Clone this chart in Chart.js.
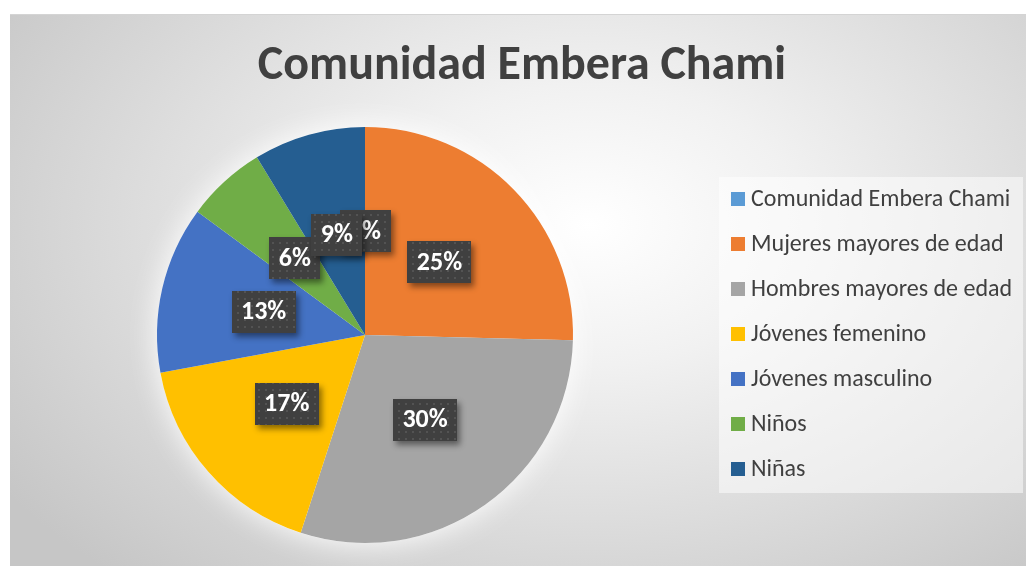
<!DOCTYPE html>
<html>
<head>
<meta charset="utf-8">
<script src="https://cdn.jsdelivr.net/npm/chart.js@4.4.1/dist/chart.umd.min.js"></script>
<style>
  html, body { margin: 0; padding: 0; background: #fff; }
  #wrap {
    position: absolute; left: 10px; top: 14px; width: 1016px; height: 552px;
    border-top: 1px solid #d4d4d4;
    background: radial-gradient(ellipse 70% 85% at 57% 38%, #ffffff 0%, #f1f1f1 30%, #c6c6c6 100%);
  }
</style>
</head>
<body>
<div id="wrap"><canvas id="pie"></canvas></div>
<script>
// Datos (porcentaje de cada grupo)
const categories = [
    'Comunidad Embera Chami',
    'Mujeres mayores de edad',
    'Hombres mayores de edad',
    'Jóvenes femenino',
    'Jóvenes masculino',
    'Niños',
    'Niñas'
];
const values = [0, 25.4, 29.6, 17.1, 13.0, 6.2, 8.7];
const colors = ['#5B9BD5', '#ED7D31', '#A5A5A5', '#FFC000', '#4472C4', '#70AD47', '#255E91'];
const chartTitle = 'Comunidad Embera Chami';

const FONT = 'Carlito, Lato, "Open Sans", sans-serif';

document.addEventListener('DOMContentLoaded', function() {
    // patron de puntos para las cajas de etiquetas
    const tile = document.createElement('canvas');
    tile.width = 7; tile.height = 7;
    const tctx = tile.getContext('2d');
    tctx.fillStyle = '#404040';
    tctx.fillRect(0, 0, 7, 7);
    tctx.fillStyle = '#535353';
    tctx.fillRect(3, 3, 2, 2);

    const excelBits = {
        id: 'excelBits',
        beforeDatasetsDraw(chart) {
            // halo blanco alrededor del pastel
            const arc = chart.getDatasetMeta(0).data[0];
            const ctx = chart.ctx;
            ctx.save();
            ctx.shadowColor = 'rgba(255,255,255,1)';
            ctx.shadowBlur = 30;
            ctx.fillStyle = '#ffffff';
            ctx.beginPath();
            ctx.arc(arc.x, arc.y, arc.outerRadius, 0, Math.PI * 2);
            ctx.fill();
            ctx.restore();
        },
        afterDraw(chart) {
            const ctx = chart.ctx;
            const total = values.reduce((a, b) => a + b, 0);

            // titulo
            ctx.save();
            ctx.font = 'bold 48px ' + FONT;
            ctx.fillStyle = '#404040';
            ctx.textAlign = 'center';
            ctx.textBaseline = 'middle';
            ctx.fillText(chartTitle, 512, 52);
            ctx.restore();

            // leyenda
            ctx.save();
            ctx.fillStyle = 'rgba(255,255,255,0.5)';
            ctx.fillRect(709, 162, 304, 316);
            ctx.font = '24px ' + FONT;
            ctx.textBaseline = 'middle';
            categories.forEach((c, i) => {
                const y = 184 + i * 45;
                ctx.fillStyle = colors[i];
                ctx.fillRect(721, y - 7, 14, 14);
                ctx.fillStyle = '#404040';
                ctx.fillText(c, 741, y + 1);
            });
            ctx.restore();

            // etiquetas de datos
            const pattern = ctx.createPattern(tile, 'repeat');
            const meta = chart.getDatasetMeta(0);
            meta.data.forEach((arc, i) => {
                const p = arc.tooltipPosition();
                const txt = Math.round(values[i] / total * 100) + '%';
                ctx.save();
                ctx.font = 'bold 26px ' + FONT;
                const tw = ctx.measureText(txt).width;
                const w = Math.round(tw + 19), h = 42;
                const x0 = Math.round(p.x - w / 2), y0 = Math.round(p.y - h / 2);
                ctx.shadowColor = 'rgba(0,0,0,0.45)';
                ctx.shadowBlur = 6;
                ctx.shadowOffsetX = 3;
                ctx.shadowOffsetY = 4;
                ctx.fillStyle = '#404040';
                ctx.fillRect(x0, y0, w, h);
                ctx.shadowColor = 'transparent';
                ctx.fillStyle = pattern;
                ctx.fillRect(x0, y0, w, h);
                ctx.fillStyle = '#ffffff';
                ctx.textAlign = 'center';
                ctx.textBaseline = 'middle';
                ctx.fillText(txt, p.x, p.y + 1);
                ctx.restore();
            });
        }
    };

    new Chart(document.getElementById('pie'), {
        type: 'pie',
        data: {
            labels: categories,
            datasets: [{
                data: values,
                backgroundColor: colors,
                borderWidth: 0
            }]
        },
        options: {
            responsive: true,
            maintainAspectRatio: false,
            animation: false,
            layout: {
                padding: { left: 147, right: 453, top: 112, bottom: 24 }
            },
            plugins: {
                legend: { display: false },
                title: { display: false },
                tooltip: { enabled: false }
            }
        },
        plugins: [excelBits]
    });
});
</script>
</body>
</html>
